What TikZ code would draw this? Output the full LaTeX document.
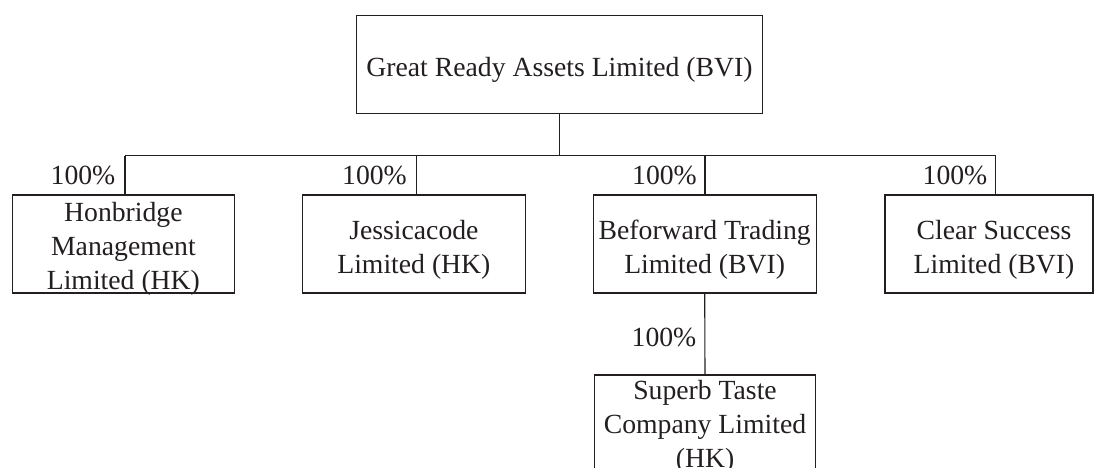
\documentclass[tikz,border=0pt]{standalone}
\usepackage{fontspec}
\setmainfont{Liberation Serif}
\definecolor{ink}{RGB}{35,31,32}
\begin{document}
\begin{tikzpicture}[x=1pt,y=-1pt,
  every node/.style={font=\fontsize{27.7}{34}\selectfont, text=ink},
  entity/.style={draw=ink, line width=1.1pt, inner sep=0pt, minimum height=98pt},
  caption/.style={align=center, inner sep=0pt},
  link/.style={draw=ink, line width=1.1pt},
  pct/.style={anchor=east, inner sep=0pt}]
\useasboundingbox (0,0) rectangle (1094,467);
\clip (0,0) rectangle (1094,467);
\node[entity, minimum width=405.6pt] (top) at (559.5,64.5) {};
\node[entity, minimum width=221.3pt] (b1) at (123.4,244) {};
\node[entity, minimum width=222.3pt] (b2) at (413.9,244) {};
\node[entity, minimum width=222.7pt] (b3) at (704.7,244) {};
\node[entity, minimum width=208pt] (b4) at (989,244) {};
\node[entity, minimum width=221.4pt] (b5) at (705,424) {};
\node[caption, yshift=-5.5pt] (t0) at (top) {Great Ready Assets Limited (BVI)};
\node[caption, yshift=-5pt] (t1) at (b1) {Honbridge\\Management\\Limited (HK)};
\node[caption, yshift=-5.5pt] (t2) at (b2) {Jessicacode\\Limited (HK)};
\node[caption, yshift=-5.5pt] (t3) at (b3) {Beforward Trading\\Limited (BVI)};
\node[caption, yshift=-5.5pt, xshift=5pt] (t4) at (b4) {Clear Success\\Limited (BVI)};
\node[caption, yshift=-3pt] (t5) at (b5) {Superb Taste\\Company Limited\\(HK)};
\coordinate (j) at (559.5,155.5);
\coordinate (d1) at (125,155.5);
\coordinate (d2) at (416.7,155.5);
\coordinate (d3) at (705,155.5);
\coordinate (d4) at (995.7,155.5);
\draw[link] (top.south) -- (j);
\draw[link] (d1) -- (d4);
\draw[link] (d1) -- (d1 |- b1.north);
\draw[link] (d2) -- (d2 |- b2.north);
\draw[link] (d3) -- (d3 |- b3.north);
\draw[link] (d4) -- (d4 |- b4.north);
\draw[link] (b3.south) -- (b5.north);
\node[pct] (p1) at (115.5,175) {100\%};
\node[pct] (p2) at (407,175) {100\%};
\node[pct] (p3) at (697,175) {100\%};
\node[pct] (p4) at (987.5,175) {100\%};
\node[pct] (p5) at (696.5,337) {100\%};
\end{tikzpicture}
\end{document}
